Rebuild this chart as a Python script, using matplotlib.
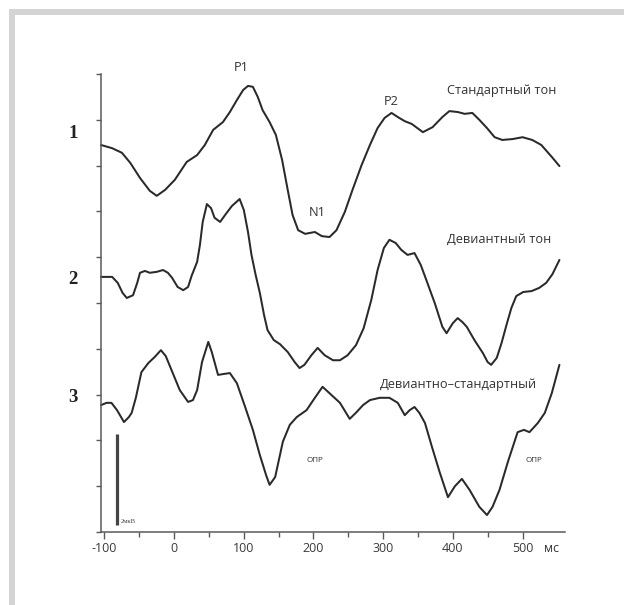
import matplotlib
matplotlib.use("Agg")
import matplotlib.pyplot as plt
from matplotlib.patches import Rectangle
import numpy as np

# ---- data (time in ms, amplitude in μV relative to each trace baseline) ----
t_std = [-105, -89, -75, -63, -49, -35, -25, -13, 1, 18,
         33, 44, 56, 70, 80, 90, 99, 106, 113, 120,
         127, 137, 146, 155, 163, 170, 178, 188, 202, 212,
         223, 233, 245, 256, 269, 281, 292, 302, 312, 321,
         331, 341, 357, 371, 385, 395, 407, 417, 428, 438,
         449, 460, 471, 486, 500, 514, 527, 542, 553]
v_std = [0.05, -0.02, -0.12, -0.34, -0.67, -0.95, -1.06, -0.93, -0.71, -0.32,
         -0.17, 0.05, 0.38, 0.55, 0.77, 1.03, 1.25, 1.34, 1.32, 1.10,
         0.81, 0.55, 0.27, -0.28, -0.93, -1.48, -1.81, -1.89, -1.85, -1.94,
         -1.96, -1.81, -1.41, -0.93, -0.39, 0.05, 0.42, 0.64, 0.75, 0.66,
         0.57, 0.51, 0.33, 0.44, 0.66, 0.79, 0.77, 0.73, 0.75, 0.60,
         0.42, 0.22, 0.16, 0.18, 0.22, 0.16, 0.05, -0.21, -0.41]

t_dev = [-105, -89, -81, -74, -68, -59, -53, -49, -42, -35,
         -25, -16, -9, -3, 5, 13, 20, 25, 33, 37,
         41, 47, 53, 58, 66, 74, 83, 94, 100, 106,
         111, 117, 123, 129, 134, 143, 152, 163, 173, 180,
         187, 197, 206, 216, 228, 238, 249, 261, 272, 283,
         292, 301, 309, 318, 326, 335, 345, 354, 362, 374,
         385, 391, 400, 407, 414, 420, 431, 443, 450, 455,
         463, 470, 477, 484, 491, 501, 513, 524, 534, 543,
         553]
v_dev = [0.07, 0.07, -0.06, -0.28, -0.39, -0.33, -0.06, 0.16, 0.20, 0.16,
         0.18, 0.22, 0.16, 0.05, -0.15, -0.22, -0.15, 0.09, 0.40, 0.77,
         1.27, 1.66, 1.57, 1.36, 1.27, 1.44, 1.62, 1.77, 1.53, 1.05,
         0.55, 0.11, -0.28, -0.76, -1.09, -1.31, -1.40, -1.57, -1.79, -1.92,
         -1.85, -1.64, -1.48, -1.64, -1.75, -1.75, -1.64, -1.42, -1.05, -0.43,
         0.22, 0.70, 0.88, 0.81, 0.66, 0.55, 0.59, 0.33, 0.00, -0.50,
         -1.02, -1.16, -0.94, -0.83, -0.92, -1.02, -1.31, -1.59, -1.79, -1.85,
         -1.70, -1.37, -0.98, -0.61, -0.35, -0.26, -0.24, -0.17, -0.06, 0.13,
         0.44]

t_diff = [-105, -97, -90, -82, -72, -65, -61, -55, -47, -37,
          -28, -19, -12, -2, 8, 20, 27, 33, 40, 49,
          54, 63, 71, 80, 90, 101, 113, 123, 132, 137,
          145, 156, 166, 176, 190, 202, 213, 223, 238, 252,
          262, 271, 281, 295, 309, 321, 331, 338, 345, 352,
          360, 370, 381, 393, 403, 413, 424, 438, 449, 457,
          467, 479, 493, 502, 510, 522, 532, 542, 553]
v_diff = [-0.03, 0.02, 0.02, -0.14, -0.40, -0.29, -0.20, 0.13, 0.69, 0.89,
          1.02, 1.17, 1.04, 0.67, 0.30, 0.04, 0.08, 0.30, 0.91, 1.35,
          1.13, 0.63, 0.65, 0.67, 0.45, -0.03, -0.57, -1.12, -1.56, -1.77,
          -1.60, -0.83, -0.46, -0.29, -0.14, 0.13, 0.37, 0.23, 0.02, -0.33,
          -0.18, -0.03, 0.08, 0.13, 0.13, 0.02, -0.25, -0.14, -0.07, -0.20,
          -0.42, -0.94, -1.49, -2.04, -1.80, -1.64, -1.88, -2.25, -2.43, -2.25,
          -1.88, -1.27, -0.62, -0.57, -0.62, -0.42, -0.20, 0.23, 0.85]

trace_names = ["Стандартный тон", "Девиантный тон", "Девиантно–стандартный"]
trace_numbers = ["1", "2", "3"]
x_ticks = [-100, 0, 100, 200, 300, 400, 500]
x_tick_labels = ["-100", "0", "100", "200", "300", "400", "500"]
scale_bar_uv = 2

# ---- layout / style ----
offsets = [8.4, 5.5, 2.8]
W, H = 624, 605
fig = plt.figure(figsize=(W / 100, H / 100), dpi=100)
fig.patch.set_facecolor("white")

border = "#d4d4d4"
fig.add_artist(Rectangle((9.3 / W, (H - 14.5) / H), 1 - 9.3 / W, 5.5 / H,
                         transform=fig.transFigure, color=border, lw=0))
fig.add_artist(Rectangle((9.3 / W, 0), 5.7 / W, (H - 9) / H,
                         transform=fig.transFigure, color=border, lw=0))

ax = fig.add_axes([101 / W, 1 - 532 / H, (565 - 101) / W, (532 - 74) / H])
ax.set_xlim(-105, 561)
ax.set_ylim(0, 10)
for s in ["top", "right"]:
    ax.spines[s].set_visible(False)
axis_col = "#5a5a5a"
for s in ["left", "bottom"]:
    ax.spines[s].set_color(axis_col)
    ax.spines[s].set_linewidth(1.1)

ax.set_yticks(np.arange(0, 11, 1))
ax.set_yticklabels([])
ax.tick_params(axis="y", direction="out", length=3.8, width=1.0, color=axis_col)
ax.set_xticks(x_ticks)
ax.set_xticklabels(x_tick_labels, fontsize=9, color="#3a3a3a", family="Open Sans")
ax.set_xticks(np.arange(-50, 500, 100), minor=True)
ax.tick_params(axis="x", which="major", direction="out", length=5, width=1.0,
               color=axis_col, pad=2.5)
ax.tick_params(axis="x", which="minor", direction="out", length=3.5, width=1.0,
               color=axis_col)

line_col = "#2a2a2a"
for t, v, off in zip([t_std, t_dev, t_diff], [v_std, v_dev, v_diff], offsets):
    ax.plot(t, np.array(v) + off, color=line_col, lw=1.45,
            solid_joinstyle="round", solid_capstyle="round", clip_on=False)

# scale bar
ax.plot([-82, -82], [0.15, 0.15 + scale_bar_uv], color="#444444", lw=2.3,
        solid_capstyle="butt")
ax.text(-77, 0.22, "2мкВ", fontsize=4.8, color="#444444", family="Liberation Serif",
        va="center", ha="left")

txt = dict(color="#333333", family="Open Sans")
fs = 9.2
ax.text(96, 10.15, "P1", fontsize=fs, ha="center", va="center", **txt)
ax.text(312, 9.41, "P2", fontsize=fs, ha="center", va="center", **txt)
ax.text(206, 6.97, "N1", fontsize=fs, ha="center", va="center", **txt)
ax.text(391, 9.65, trace_names[0], fontsize=fs, ha="left", va="center", **txt)
ax.text(391, 6.38, trace_names[1], fontsize=fs, ha="left", va="center", **txt)
ax.text(295, 3.23, trace_names[2], fontsize=fs, ha="left", va="center", **txt)
ax.text(202, 1.57, "ОПР", fontsize=5.8, ha="center", va="center", **txt)
ax.text(517, 1.57, "ОПР", fontsize=5.8, ha="center", va="center", **txt)
ax.text(531, -0.36, "мс", fontsize=9, ha="left", va="center", **txt)

for num, yv in zip(trace_numbers, [8.71, 5.52, 2.93]):
    ax.text(-145, yv, num, fontsize=13.5, fontweight="bold", family="Liberation Serif",
            color="#222222", ha="center", va="center", clip_on=False)

fig.savefig("out.png", dpi=100)
